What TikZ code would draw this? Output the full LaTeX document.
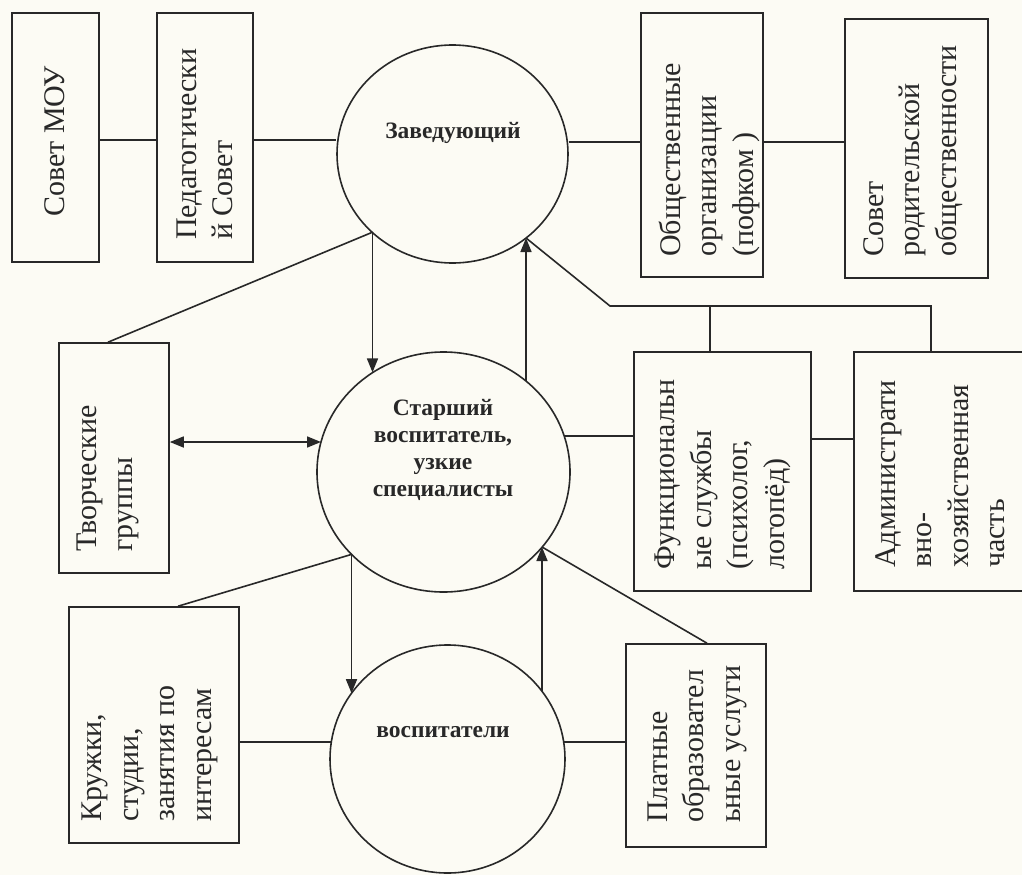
\documentclass[tikz,border=0pt]{standalone}
\usepackage{fontspec}
\setmainfont{Liberation Serif}
\usetikzlibrary{shapes.geometric,arrows.meta}
\definecolor{paper}{HTML}{FCFBF4}
\definecolor{ink}{HTML}{282828}
\begin{document}
\begin{tikzpicture}[x=1pt,y=-1pt,
  box/.style={draw=ink, line width=1.6pt, rectangle, inner sep=0pt},
  lbl/.style={rotate=90, anchor=west, align=left, inner sep=0pt, text=ink,
              font=\fontsize{30}{36.5}\selectfont},
  circ/.style={draw=ink, line width=1.6pt, ellipse, inner sep=0pt},
  ctext/.style={align=center, inner sep=0pt, text=ink,
              font=\fontsize{23.5}{27}\selectfont\bfseries},
  conn/.style={draw=ink, line width=1.6pt},
  arr/.style={conn, -{Triangle[length=14pt,width=11pt]}},
  darr/.style={conn, {Triangle[length=14pt,width=11pt]}-{Triangle[length=14pt,width=11pt]}}]
\fill[paper] (0,0) rectangle (1022,875);
\useasboundingbox (0,0) rectangle (1022,875);

% boxes
\node[box, minimum width=87pt, minimum height=249pt] (moy) at (55.5,137.5) {};
\node[box, minimum width=96pt, minimum height=249pt] (ped) at (205,137.5) {};
\node[box, minimum width=122pt, minimum height=264pt] (obsh) at (702,145) {};
\node[box, minimum width=143pt, minimum height=259pt] (rod) at (916.5,148.5) {};
\node[box, minimum width=110pt, minimum height=230pt] (tvor) at (114,458) {};
\node[box, minimum width=177pt, minimum height=239pt] (func) at (722.5,471.5) {};
\node[box, minimum width=176pt, minimum height=239pt] (adm) at (942,471.5) {};
\node[box, minimum width=170pt, minimum height=236pt] (kruzh) at (154,725) {};
\node[box, minimum width=140pt, minimum height=203pt] (plat) at (696,745.5) {};

% box texts
\node[lbl] (moyt) at (55,217) {Совет МОУ};
\node[lbl] (pedt) at (205,240) {Педагогически\\й Совет};
\node[lbl] (obsht) at (709,257) {Общественные\\организации\\(пофком )};
\node[lbl] (rodt) at (913,257) {Совет\\родительской\\общественности};
\node[lbl] (tvort) at (108,552) {Творческие\\группы};
\node[lbl] (funct) at (723,570) {Функциональн\\ые службы\\(психолог,\\логопёд)};
\node[lbl] (admt) at (940,568) {Администрати\\вно-\\хозяйственная\\часть};
\node[lbl] (kruzht) at (150,822) {Кружки,\\студии,\\занятия по\\интересам};
\node[lbl] (platt) at (697,823) {Платные\\образовател\\ьные услуги};

% circles
\node[circ, minimum width=231pt, minimum height=218pt] (zav) at (452.5,154) {};
\node[circ, minimum width=253pt, minimum height=240pt] (star) at (443.5,472) {};
\node[circ, minimum width=235pt, minimum height=228pt] (vosp) at (447.5,759) {};
\node[ctext] (zavt) at (453,133) {Заведующий};
\node[ctext] (start) at (443,450) {Старший\\воспитатель,\\узкие\\специалисты};
\node[ctext] (vospt) at (443,732) {воспитатели};

% points on circles
\coordinate (zA) at (372.5,232.2);
\coordinate (zB) at (526,238);
\coordinate (sA) at (372.5,372.4);
\coordinate (sB) at (526,381);
\coordinate (sL) at (321,442);
\coordinate (sR) at (564,436);
\coordinate (sC) at (351.5,554.4);
\coordinate (sD) at (542,547);
\coordinate (vA) at (351.5,693.2);
\coordinate (vB) at (542,691.3);
\coordinate (vL) at (331.3,742);
\coordinate (vR) at (563.7,742);

% top row
\draw[conn] (moy.east |- 0,140) -- (ped.west |- 0,140);
\draw[conn] (ped.east |- 0,140) -- (zav.west |- 0,140);
\draw[conn] (zav.east |- 0,142) -- (obsh.west |- 0,142);
\draw[conn] (obsh.east |- 0,142) -- (rod.west |- 0,142);

% zav <-> star
\draw[conn] (tvor.north -| 108,0) -- (zA);
\draw[arr] (zA) -- (sA);
\draw[arr] (sB) -- (zB);
\draw[conn] (zB) -- (610,306) -| (adm.north -| 931,0);
\draw[conn] (710,306) -- (func.north -| 710,0);

% middle row
\draw[darr] (tvor.east |- 0,442) -- (sL);
\draw[conn] (sR) -- (func.west |- 0,436);
\draw[conn] (func.east |- 0,439) -- (adm.west |- 0,439);

% star <-> vosp
\draw[conn] (kruzh.north -| 178,0) -- (sC);
\draw[arr] (sC) -- (vA);
\draw[arr] (vB) -- (sD);
\draw[conn] (sD) -- (plat.north -| 707,0);

% bottom row
\draw[conn] (kruzh.east |- 0,742) -- (vL);
\draw[conn] (vR) -- (plat.west |- 0,742);
\end{tikzpicture}
\end{document}
